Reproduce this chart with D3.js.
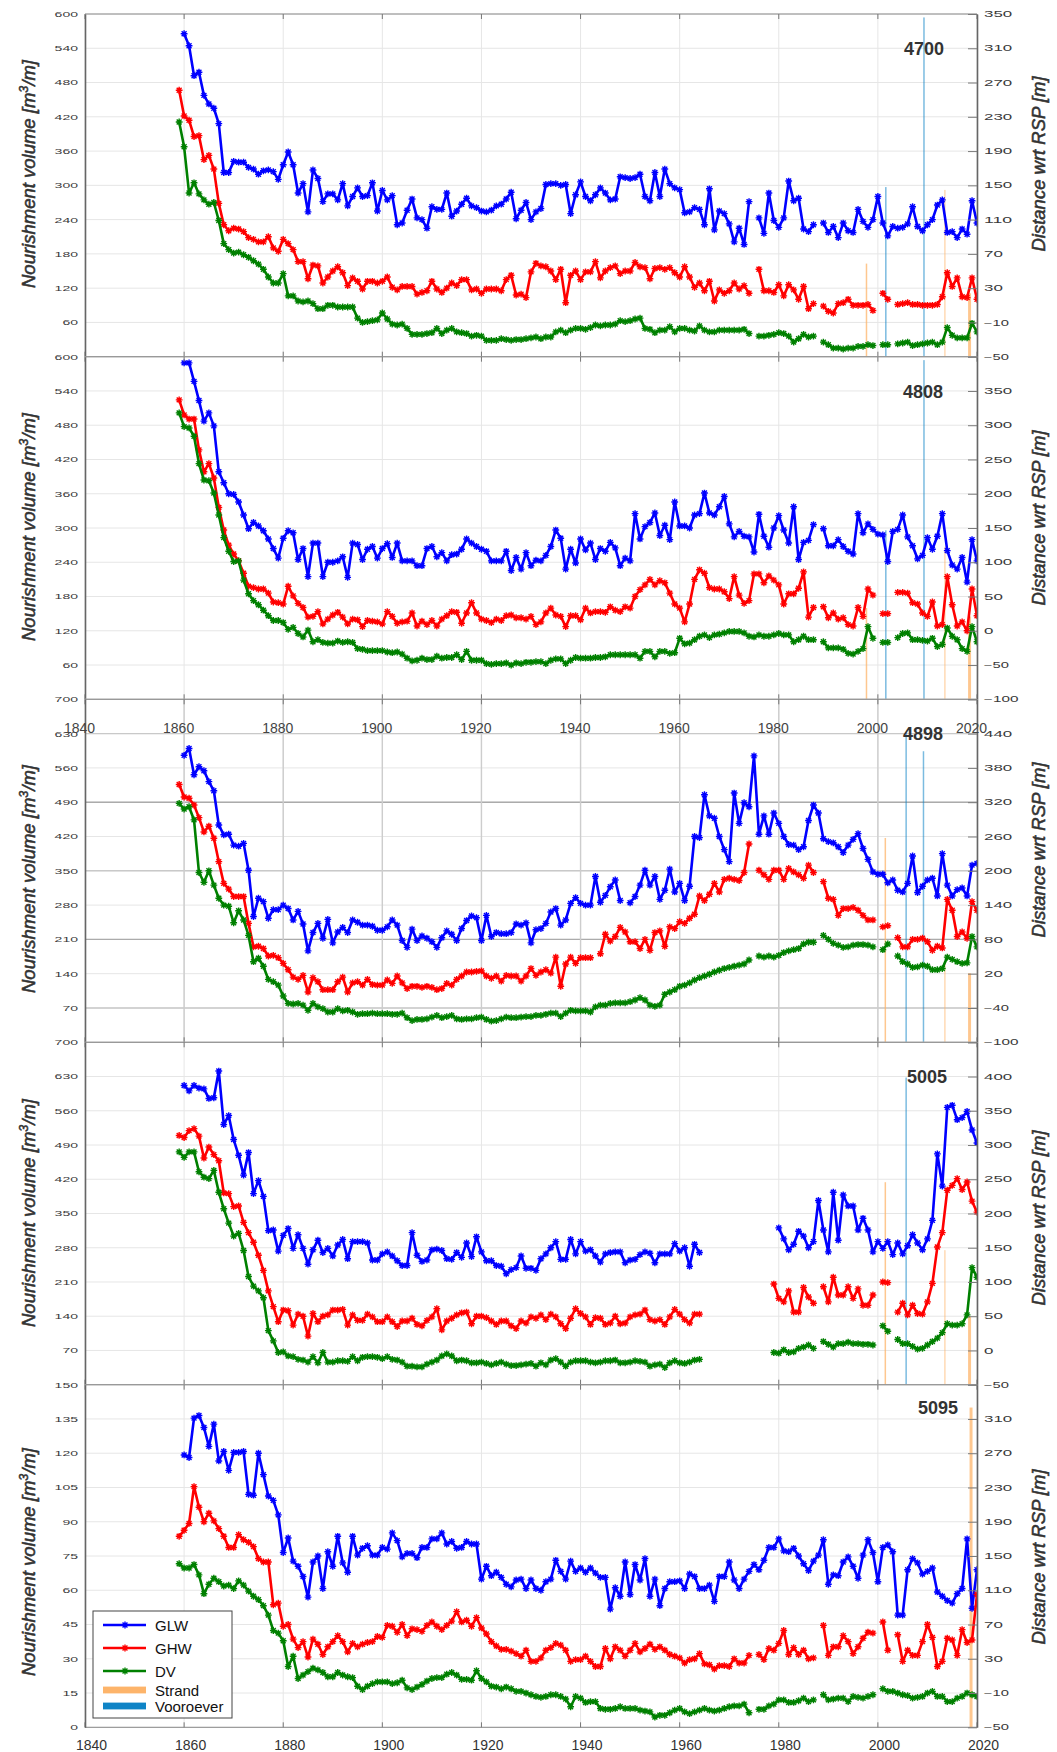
<!DOCTYPE html>
<html>
<head>
<meta charset="utf-8">
<script src="https://cdn.jsdelivr.net/npm/d3@7"></script>
<style>
  html, body { margin: 0; padding: 0; background: #fff; }
  svg { display: block; font-family: "Liberation Sans", Arial, Helvetica, sans-serif; }
</style>
</head>
<body>
<svg id="chart" width="1057" height="1752"></svg>
<script>
// ---------------------------------------------------------------------------
// Data: yearly positions (m w.r.t. RSP) of GLW, GHW and DV per transect,
// 1859..2020 (null = no measurement), and nourishment volumes (m3/m).
// ---------------------------------------------------------------------------
const years = d3.range(1859, 2021);
const yearTicks = d3.range(1840, 2021, 20);
const transects = ["4700", "4808", "4898", "5005", "5095"];
const seriesNames = ["GLW", "GHW", "DV"];
const volumeMax = [600, 600, 700, 700, 150];
const volumeStep = [60, 60, 70, 70, 15];
const distanceDomain = [[-50, 350], [-100, 400], [-100, 500], [-50, 450], [-50, 350]];
const distanceStep = [40, 50, 60, 50, 40];

const glw4700 = [
  null,327,313,278,282,255,245,240,222,165,165,
  178,177,177,171,169,163,167,168,166,157,
  174,189,174,141,152,119,168,158,131,140,
  140,133,152,126,137,147,137,138,153,120,
  144,133,138,104,106,121,134,112,110,100,
  125,122,122,141,114,120,128,135,126,124,
  120,119,121,126,128,134,142,111,121,130,
  110,119,123,151,152,152,150,151,117,139,
  154,137,132,139,147,141,133,134,160,159,
  158,159,163,137,132,165,137,169,152,147,
  145,118,119,124,122,104,146,98,120,117,
  105,84,100,81,131,null,112,94,141,109,
  101,112,155,132,135,99,96,104,null,106,
  95,102,89,106,97,95,122,108,101,110,
  137,106,91,102,100,101,105,125,102,97,
  104,110,127,133,95,96,89,99,93,132,106];
const ghw4700 = [
  261,231,226,207,208,180,185,169,129,104,97,
  100,99,96,89,87,84,84,90,77,73,
  87,82,75,61,61,41,57,56,36,43,
  50,55,48,33,42,38,29,38,38,36,
  38,43,31,28,32,32,32,23,25,27,
  38,29,25,30,36,33,40,40,28,29,
  24,29,29,29,27,40,45,22,23,19,
  49,59,56,55,50,40,52,13,45,50,
  40,49,49,61,42,50,54,56,47,50,
  50,60,55,54,41,53,54,52,54,48,
  43,55,43,31,36,27,38,15,28,24,
  27,36,29,33,24,null,52,27,27,25,
  34,21,34,28,17,32,6,12,null,9,
  3,1,12,13,17,10,10,10,11,4,
  null,24,17,null,11,12,13,11,11,10,
  10,10,11,20,48,32,42,20,19,42,17];
const dv4700 = [
  224,195,141,153,140,133,128,130,109,82,75,
  71,72,69,66,62,58,52,43,36,36,
  47,21,21,15,14,15,12,6,6,10,
  10,8,8,8,8,-5,-10,-9,-8,-7,
  1,-6,-12,-13,-12,-17,-24,-24,-24,-23,
  -22,-17,-23,-19,-17,-21,-22,-23,-26,-25,
  -26,-31,-31,-31,-29,-30,-31,-30,-30,-29,
  -28,-27,-29,-27,-27,-21,-19,-22,-19,-17,
  -17,-18,-16,-13,-14,-13,-13,-12,-8,-9,
  -8,-6,-5,-17,-18,-22,-19,-19,-15,-21,
  -17,-17,-19,-20,-14,-19,-21,-21,-19,-19,
  -19,-19,-19,-18,-23,null,-26,-26,-25,-24,
  -22,-23,-26,-33,-29,-24,-27,-26,null,-33,
  -36,-40,-40,-41,-40,-40,-38,-38,-36,-37,
  null,-36,-36,null,-35,-34,-33,-37,-36,-35,
  -34,-33,-36,-33,-16,-25,-28,-28,-28,-11,-21];

const glw4808 = [
  null,391,391,364,336,306,318,299,232,216,200,
  199,188,169,149,158,153,146,134,120,106,
  135,146,143,104,120,79,128,128,79,100,
  100,102,108,78,128,126,104,119,123,106,
  120,127,107,128,102,102,102,95,95,120,
  123,108,114,102,111,112,119,134,128,123,
  119,116,102,102,102,116,88,107,90,114,
  95,103,102,110,123,147,135,90,119,99,
  134,118,128,104,120,116,129,121,95,106,
  102,171,134,152,158,172,139,154,133,188,
  153,153,150,169,171,201,172,169,181,196,
  156,137,145,138,137,115,170,138,122,150,
  168,147,128,181,104,129,132,155,null,149,
  124,124,133,123,116,112,171,143,156,148,
  141,140,101,145,148,169,137,124,105,110,
  136,119,138,171,117,96,90,107,71,133,102];
const ghw4808 = [
  337,315,309,309,264,232,244,223,180,147,125,
  112,102,84,65,63,61,61,55,42,41,
  39,65,51,40,34,20,21,28,10,17,
  23,27,20,10,17,16,6,15,14,13,
  10,28,21,11,13,14,26,7,14,9,
  15,7,17,22,28,27,11,26,41,26,
  17,15,12,17,15,22,23,19,19,17,
  21,9,13,26,33,23,21,6,22,22,
  16,33,26,28,28,27,35,30,28,35,
  33,50,60,67,75,67,73,70,55,39,
  33,13,39,75,89,84,63,61,61,57,
  47,79,52,40,44,83,83,70,80,74,
  67,39,54,54,62,86,20,34,null,35,
  19,26,17,19,9,7,34,21,61,52,
  null,25,25,null,56,56,55,41,39,26,
  21,42,7,9,79,38,7,13,0,61,22];
const dv4808 = [
  318,298,296,284,244,220,219,201,169,136,116,
  101,102,74,54,44,38,30,22,15,15,
  12,2,5,-4,-9,1,-16,-13,-17,-18,
  -18,-15,-17,-16,-17,-26,-27,-29,-29,-29,
  -29,-31,-32,-31,-34,-40,-44,-43,-40,-42,
  -42,-37,-40,-39,-39,-35,-42,-30,-43,-43,
  -43,-48,-49,-48,-48,-47,-50,-47,-48,-46,
  -46,-45,-45,-48,-43,-41,-41,-48,-43,-39,
  -40,-40,-40,-39,-39,-38,-35,-35,-35,-35,
  -35,-35,-40,-30,-30,-38,-30,-30,-33,-32,
  -11,-19,-18,-13,-8,-6,-10,-6,-5,-3,
  -1,-1,-1,-3,-8,-9,-6,-8,-8,-6,
  -4,-6,-6,-16,-13,-8,-13,-13,null,-16,
  -25,-25,-25,-27,-33,-34,-30,-26,6,-11,
  null,-17,-17,null,-10,-4,-3,-13,-13,-14,
  -15,-11,-23,-20,4,-8,-13,-26,-30,6,-16];

const glw4898 = [
  null,402,414,368,382,375,356,340,280,263,264,
  245,243,248,201,120,152,146,117,132,132,
  140,134,114,129,107,60,92,108,82,115,
  74,93,101,92,114,110,105,105,103,96,
  96,102,114,105,78,66,98,78,86,82,
  76,66,83,95,89,78,99,113,121,118,
  78,122,85,92,90,90,92,107,105,109,
  74,97,99,108,128,134,105,114,143,153,
  143,140,140,190,145,157,172,184,148,null,
  144,155,175,201,175,190,150,166,203,163,
  178,148,173,260,258,333,296,292,260,237,
  216,336,283,319,312,401,264,296,264,301,
  283,260,246,245,237,242,288,315,301,256,
  251,249,242,232,245,255,265,239,220,198,
  194,194,179,184,166,163,178,226,162,173,
  184,187,156,230,175,156,167,170,156,210,213];
const ghw4898 = [
  351,329,327,315,293,268,278,257,216,178,168,
  155,155,155,108,67,68,64,51,52,48,
  38,27,14,10,17,-12,13,6,-8,-8,
  -8,6,14,-12,4,6,0,10,1,0,
  0,9,3,16,4,-6,-2,-2,-4,-2,
  -4,-8,-6,3,0,10,16,23,23,24,
  25,16,12,16,7,17,16,16,7,16,
  29,17,23,27,21,49,-2,37,49,38,
  48,48,48,null,55,89,77,85,101,93,
  76,76,64,80,61,92,95,68,102,99,
  111,108,117,124,156,148,159,178,163,185,
  187,185,183,197,247,null,201,193,185,201,
  201,185,204,198,193,187,210,197,null,181,
  152,150,122,134,134,136,131,122,114,114,
  null,102,104,null,83,67,67,80,80,82,
  76,61,68,65,150,131,85,93,82,146,131];
const dv4898 = [
  318,308,312,289,197,180,200,175,152,140,138,
  109,130,114,87,41,47,33,10,6,0,
  -19,-32,-33,-32,-35,-44,-32,-38,-41,-47,
  -47,-41,-45,-44,-47,-51,-50,-50,-49,-50,
  -50,-50,-51,-51,-49,-57,-62,-60,-60,-59,
  -56,-53,-57,-55,-53,-59,-60,-59,-59,-57,
  -56,-60,-63,-62,-59,-56,-57,-57,-56,-55,
  -55,-53,-53,-51,-49,-49,-55,-49,-44,-45,
  -45,-45,-47,-38,-35,-35,-32,-31,-31,-31,
  -29,-26,-22,-26,-35,-37,-35,-16,-12,-8,
  -2,0,4,9,13,16,19,23,26,29,
  31,33,35,37,44,null,51,49,51,49,
  52,57,60,62,64,72,75,75,null,87,
  80,73,70,66,67,70,71,71,70,67,
  null,62,72,null,51,41,37,31,32,35,
  33,27,27,29,49,45,41,38,39,85,67];

const glw5005 = [
  null,387,379,387,383,382,368,369,408,330,343,
  308,285,256,289,229,248,225,175,176,145,
  168,178,149,169,149,126,147,161,143,149,
  138,154,162,134,159,159,159,157,132,132,
  141,144,138,131,124,124,172,139,130,132,
  147,148,146,134,133,143,136,157,137,166,
  144,131,131,124,123,112,118,121,138,120,
  120,117,134,141,150,159,133,133,162,141,
  159,145,147,138,129,141,143,144,144,128,
  132,133,140,144,142,128,141,141,141,156,
  145,150,123,155,143,null,null,null,null,null,
  null,null,null,null,null,null,null,null,null,null,
  179,163,147,155,174,167,150,159,219,176,
  144,231,161,227,211,211,176,193,176,144,
  159,149,159,140,157,141,153,169,157,147,
  163,190,287,240,355,358,337,340,349,322,303];
const ghw5005 = [
  314,311,321,324,313,281,297,286,277,230,229,
  210,211,187,172,158,139,117,87,64,42,
  59,58,37,53,50,21,54,42,50,52,
  59,59,60,37,52,44,44,53,49,42,
  42,49,42,35,43,43,47,38,36,44,
  49,61,30,43,47,52,55,56,39,50,
  50,48,43,38,43,43,36,32,43,40,
  49,47,52,45,53,49,39,32,47,61,
  54,49,38,48,47,38,40,50,39,40,
  49,52,53,59,45,43,45,38,49,60,
  53,45,40,53,53,null,null,null,null,null,
  null,null,null,null,null,null,null,null,null,97,
  76,71,87,56,56,92,78,69,null,93,
  71,107,81,81,93,76,90,66,66,81,
  null,100,99,null,56,69,52,66,54,53,
  71,98,151,172,234,241,251,235,246,218,202];
const dv5005 = [
  290,282,290,290,261,253,251,263,231,207,186,
  167,171,146,108,94,87,77,29,14,-3,
  -2,-8,-9,-13,-14,-17,-9,-18,-3,-17,
  -17,-15,-15,-16,-9,-15,-10,-9,-9,-10,
  -12,-9,-13,-14,-17,-23,-23,-24,-24,-20,
  -17,-14,-8,-5,-8,-15,-14,-15,-18,-18,
  -17,-19,-21,-19,-17,-20,-22,-22,-21,-20,
  -19,-23,-18,-21,-14,-12,-17,-23,-17,-15,
  -15,-15,-17,-18,-17,-15,-15,-14,-18,-18,
  -17,-15,-16,-17,-23,-21,-20,-25,-18,-15,
  -18,-19,-17,-14,-13,null,null,null,null,null,
  null,null,null,null,null,null,null,null,null,-3,
  -4,1,-3,-2,3,5,8,3,null,13,
  9,5,10,10,12,10,10,9,9,8,
  null,36,28,null,16,10,10,6,2,3,
  8,13,18,26,39,37,37,39,52,121,107];

const glw5095 = [
  null,268,265,311,314,300,278,304,261,272,250,
  271,271,272,222,221,270,245,220,215,198,
  154,171,144,138,126,102,143,150,112,155,
  138,173,142,131,173,151,159,162,151,151,
  160,158,177,168,149,153,153,148,160,160,
  170,170,177,164,167,159,160,167,164,164,
  123,138,127,131,125,117,114,122,123,112,
  122,112,110,120,123,145,132,123,144,132,
  136,131,136,130,125,125,88,113,103,143,
  105,140,122,147,103,123,92,112,120,120,
  121,112,129,126,112,112,116,97,126,126,
  143,122,112,123,132,140,134,145,160,160,
  170,156,155,159,150,141,133,144,151,169,
  117,128,127,143,149,138,124,151,169,154,
  120,160,163,155,81,81,134,147,142,129,
  132,136,108,103,98,95,106,112,170,89,134];
const ghw5095 = [
  173,180,188,231,207,190,200,191,182,173,160,
  160,175,169,166,161,147,143,143,93,95,
  68,70,53,43,50,32,53,47,35,44,
  50,57,50,38,48,44,47,49,50,56,
  55,69,68,61,70,57,65,64,62,69,
  73,68,64,69,74,85,73,75,68,78,
  66,59,50,45,41,41,39,36,33,40,
  27,27,31,40,43,48,46,40,27,29,
  29,33,27,21,21,42,30,44,40,33,
  40,48,38,42,47,41,44,40,35,33,
  31,25,29,30,36,24,23,18,22,22,
  21,30,25,25,34,null,35,29,42,40,
  48,63,35,43,35,40,30,31,null,69,
  34,44,44,57,50,36,44,54,61,60,
  null,73,40,null,58,27,40,34,34,50,
  70,55,21,27,54,52,34,64,49,52,105];
const dv5095 = [
  141,136,136,140,128,106,117,124,120,115,116,
  112,121,116,109,103,99,92,81,63,60,
  51,21,33,7,11,15,19,17,14,9,
  9,14,11,9,8,-2,-6,-2,1,3,
  3,3,1,2,5,-4,-6,-3,0,4,
  7,8,8,12,14,11,6,6,5,16,
  7,3,-2,-3,-5,-3,-5,-8,-8,-10,
  -12,-14,-15,-14,-12,-12,-14,-17,-26,-14,
  -16,-21,-20,-20,-28,-29,-29,-28,-26,-28,
  -28,-28,-30,-31,-32,-38,-36,-36,-33,-30,
  -28,-32,-34,-32,-30,-28,-30,-31,-30,-28,
  -26,-25,-25,-23,-33,null,-29,-29,-25,-23,
  -18,-18,-21,-21,-19,-16,-20,-18,null,-12,
  -18,-17,-16,-16,-20,-14,-15,-16,-14,-12,
  null,-5,-8,-8,-10,-12,-13,-16,-15,-14,
  -10,-8,-14,-14,-20,-20,-16,-14,-10,-12,-14];

// Nourishments: year, volume (m3/m) and duration (years) per transect
const strandYears  = [[1997.7, 2013.5, 2018.5], [1997.7, 2013.5, 2018.5], [2001.5, 2013.5, 2018.5], [2001.5, 2013.5, 2018.5], [2018.8]];
const strandVolume = [[163, 292, 111], [160, 267, 145], [417, 162, 141], [414, 275, 139], [140]];
const strandSpan   = [[0.3, 0.15, 0.6], [0.3, 0.15, 0.6], [0.3, 0.15, 0.6], [0.3, 0.15, 0.6], [0.6]];
const shoreYears   = [[2001.6, 2009.3], [2001.6, 2009.3], [2005.7, 2009.2], [2005.7], []];
const shoreVolume  = [[297, 594], [296, 594], [632, 594], [628], []];

// ---------------------------------------------------------------------------
// Layout and styles
// ---------------------------------------------------------------------------
const X0 = 85, X1 = 977;
const panelTop    = [14, 356.7, 699.3, 1042.3, 1384.7];
const panelBottom = [356.7, 699.3, 1042.3, 1384.7, 1727.3];
const leftTitleY  = [174, 527, 879, 1213, 1562];
const rightTitleY = [164, 518, 850, 1218, 1557];
const tagPos = [[924, 48], [923, 391], [923, 733], [927, 1076], [938, 1407]];
const seriesColor = { GLW: "#0000ff", GHW: "#ff0000", DV: "#008000" };
const strandColor = "#fdb46a", shoreColor = "#0f84c6";

const panels = transects.map((id, i) => ({
  id,
  series: {
    GLW: [glw4700, glw4808, glw4898, glw5005, glw5095][i],
    GHW: [ghw4700, ghw4808, ghw4898, ghw5005, ghw5095][i],
    DV:  [dv4700, dv4808, dv4898, dv5005, dv5095][i]
  },
  strand: strandYears[i].map((y, k) => ({ year: y, vol: strandVolume[i][k], span: strandSpan[i][k] })),
  shore: shoreYears[i].map((y, k) => ({ year: y, vol: shoreVolume[i][k], span: 0.3 }))
}));

const svg = d3.select("#chart");
const x = d3.scaleLinear().domain([1840, 2020]).range([X0, X1]);

// MATLAB-like '*' marker
function starPath(s) {
  const d = s * 0.72;
  return `M${-s},0H${s}M0,${-s}V${s}M${-d},${-d}L${d},${d}M${-d},${d}L${d},${-d}`;
}

// stretched numeric tick labels of the y axes
function stretchLabels(sel, perDigit, minus) {
  sel.each(function () {
    const t = d3.select(this), s = t.text();
    if (!s) return;
    const neg = s.startsWith("-") || s.startsWith("\u2212");
    const digits = s.length - (neg ? 1 : 0);
    t.attr("textLength", digits * perDigit + (neg ? minus : 0)).attr("lengthAdjust", "spacingAndGlyphs");
  });
}

panels.forEach((p, i) => {
  const top = panelTop[i], bottom = panelBottom[i];
  const yL = d3.scaleLinear().domain([0, volumeMax[i]]).range([bottom, top]);
  const yR = d3.scaleLinear().domain(distanceDomain[i]).range([bottom, top]);
  const g = svg.append("g").attr("class", "panel");

  const clipId = "clip" + i;
  svg.append("clipPath").attr("id", clipId)
    .append("rect").attr("x", X0).attr("y", top).attr("width", X1 - X0).attr("height", bottom - top);

  const volTicks = d3.range(0, volumeMax[i] + 1e-9, volumeStep[i]);
  const distTicks = d3.range(distanceDomain[i][0], distanceDomain[i][1] + 1e-9, distanceStep[i]);

  // grid
  const grid = g.append("g");
  const gridColor = "#e6e6e6";
  grid.selectAll("line.h").data(volTicks).join("line")
    .attr("x1", X0).attr("x2", X1).attr("y1", d => yL(d)).attr("y2", d => yL(d))
    .attr("stroke", gridColor).attr("stroke-width", 1);
  grid.selectAll("line.v").data(yearTicks).join("line")
    .attr("x1", d => x(d)).attr("x2", d => x(d)).attr("y1", top).attr("y2", bottom)
    .attr("stroke", gridColor).attr("stroke-width", 1);
  if (i === 2) {
    // second, heavier grid of the overlaid axes
    grid.selectAll("line.h2").data(d3.range(70, 700, 140)).join("line")
      .attr("x1", X0).attr("x2", X1).attr("y1", d => yL(d)).attr("y2", d => yL(d))
      .attr("stroke", d => (d === 210 || d === 490) ? "#ababab" : "#c9c9c9").attr("stroke-width", 1.4);
    grid.selectAll("line.v2").data(yearTicks.slice(1, -1)).join("line")
      .attr("x1", d => x(d)).attr("x2", d => x(d)).attr("y1", top).attr("y2", bottom)
      .attr("stroke", "#cdcdcd").attr("stroke-width", 1.4);
  }

  // nourishment bars (left axis)
  const bars = g.append("g").attr("clip-path", `url(#${clipId})`);
  const drawBars = (data, color, opacity) => {
    bars.append("g").selectAll("rect").data(data).join("rect")
      .attr("x", d => x(d.year - d.span / 2))
      .attr("width", d => Math.max(1, x(d.year + d.span / 2) - x(d.year - d.span / 2)))
      .attr("y", d => yL(d.vol))
      .attr("height", d => yL(0) - yL(d.vol))
      .attr("fill", color).attr("fill-opacity", opacity);
  };
  drawBars(p.strand, strandColor, 0.75);
  drawBars(p.shore, shoreColor, 0.55);

  // series (right axis)
  const lines = g.append("g").attr("clip-path", `url(#${clipId})`);
  seriesNames.forEach(name => {
    const vals = p.series[name];
    const pts = years.map((yr, k) => ({ yr, v: vals[k] }));
    const line = d3.line().defined(d => d.v !== null && d.v !== undefined)
      .x(d => x(d.yr)).y(d => yR(d.v));
    lines.append("path").datum(pts).attr("d", line)
      .attr("fill", "none").attr("stroke", seriesColor[name]).attr("stroke-width", 2.6)
      .attr("stroke-linejoin", "round");
    lines.append("g").selectAll("path").data(pts.filter(d => d.v !== null && d.v !== undefined)).join("path")
      .attr("transform", d => `translate(${x(d.yr)},${yR(d.v)})`)
      .attr("d", starPath(3.4))
      .attr("stroke", seriesColor[name]).attr("stroke-width", 1.4).attr("fill", "none");
  });

  // frame: top / bottom borders with inward year ticks
  g.append("line").attr("x1", X0).attr("x2", X1).attr("y1", top).attr("y2", top)
    .attr("stroke", "#8a8a8a").attr("stroke-width", 1);
  g.append("line").attr("x1", X0).attr("x2", X1).attr("y1", bottom).attr("y2", bottom)
    .attr("stroke", "#8a8a8a").attr("stroke-width", 1);
  g.append("g").selectAll("line").data(yearTicks).join("line")
    .attr("x1", d => x(d)).attr("x2", d => x(d)).attr("y1", top).attr("y2", top + 5)
    .attr("stroke", "#777");
  g.append("g").selectAll("line").data(yearTicks).join("line")
    .attr("x1", d => x(d)).attr("x2", d => x(d)).attr("y1", bottom - 5).attr("y2", bottom)
    .attr("stroke", "#777");

  // left axis (nourishment volume)
  const isLast = i === panels.length - 1;
  const leftAxis = d3.axisLeft(yL).tickValues(volTicks).tickSize(0).tickPadding(7)
    .tickFormat(d => (d === 0 && !isLast) ? "" : d3.format("d")(d));
  const la = g.append("g").attr("transform", `translate(${X0},0)`).call(leftAxis);
  la.select(".domain").attr("stroke", "#666").attr("stroke-width", 1.6);
  la.selectAll("text").attr("font-size", 7.6).attr("fill", "#3a3a3a")
    .attr("font-family", "'Liberation Sans', Arial, sans-serif");
  stretchLabels(la.selectAll("text"), 7.8, 5.5);

  // right axis (distance wrt RSP)
  const isFirst = i === 0;
  const topVal = distanceDomain[i][1];
  const rightAxis = d3.axisRight(yR).tickValues(distTicks).tickSizeInner(-9).tickSizeOuter(0).tickPadding(7)
    .tickFormat(d => (d === topVal && !isFirst) ? "" : d3.format("d")(d));
  const ra = g.append("g").attr("transform", `translate(${X1},0)`).call(rightAxis);
  ra.select(".domain").attr("stroke", "#666").attr("stroke-width", 1.6);
  ra.selectAll(".tick line").attr("stroke", "#7a7a7a");
  ra.selectAll("text").attr("font-size", 8.2).attr("fill", "#3a3a3a")
    .attr("font-family", "'Liberation Sans', Arial, sans-serif");
  stretchLabels(ra.selectAll("text"), 9.4, 6.2);

  // axis titles
  const lt = svg.append("text")
    .attr("transform", `translate(35,${leftTitleY[i]}) rotate(-90)`)
    .attr("text-anchor", "middle").attr("font-style", "italic").attr("font-size", 18.5)
    .attr("fill", "#333").attr("stroke", "#333").attr("stroke-width", 0.55);
  lt.append("tspan").text("Nourishment volume [m");
  lt.append("tspan").attr("dy", -7).attr("font-size", 12.5).text("3");
  lt.append("tspan").attr("dy", 7).text("/m]");

  svg.append("text")
    .attr("transform", `translate(1045,${rightTitleY[i]}) rotate(-90)`)
    .attr("text-anchor", "middle").attr("font-style", "italic").attr("font-size", 18.5)
    .attr("fill", "#333").attr("stroke", "#333").attr("stroke-width", 0.55)
    .text("Distance wrt RSP [m]");

  // transect number
  svg.append("text").attr("x", tagPos[i][0]).attr("y", tagPos[i][1] + 6.5)
    .attr("text-anchor", "middle").attr("font-weight", "bold").attr("font-size", 18)
    .attr("fill", "#333").text(p.id);
});

// year labels: along the bottom, and repeated at the top of the third panel
const bottomAxis = d3.axisBottom(x).tickValues(yearTicks).tickSize(0).tickPadding(13).tickFormat(d3.format("d"));
const ba = svg.append("g").attr("transform", `translate(0,${panelBottom[4]})`).call(bottomAxis);
ba.select(".domain").remove();
ba.selectAll("text").attr("font-size", 14).attr("fill", "#333").attr("dx", 6)
  .attr("font-family", "'Liberation Sans', Arial, sans-serif");

const midAxis = d3.axisBottom(x).tickValues(yearTicks).tickSize(0).tickPadding(23.5).tickFormat(d3.format("d"));
const ma = svg.append("g").attr("transform", `translate(0,${panelTop[2]})`).call(midAxis);
ma.select(".domain").remove();
ma.selectAll("text").attr("font-size", 14).attr("fill", "#444").attr("dx", -6)
  .attr("font-family", "'Liberation Sans', Arial, sans-serif");

// legend (bottom panel)
const legendItems = [
  { label: "GLW", kind: "series", color: seriesColor.GLW, y: 1625 },
  { label: "GHW", kind: "series", color: seriesColor.GHW, y: 1648 },
  { label: "DV", kind: "series", color: seriesColor.DV, y: 1671 },
  { label: "Strand", kind: "bar", color: strandColor, y: 1690 },
  { label: "Vooroever", kind: "bar", color: shoreColor, y: 1706 }
];
const lg = svg.append("g");
lg.append("rect").attr("x", 93).attr("y", 1611).attr("width", 139).attr("height", 107)
  .attr("fill", "#fff").attr("stroke", "#444").attr("stroke-width", 1);
legendItems.forEach(it => {
  if (it.kind === "series") {
    lg.append("line").attr("x1", 103).attr("x2", 146).attr("y1", it.y).attr("y2", it.y)
      .attr("stroke", it.color).attr("stroke-width", 2.6);
    lg.append("path").attr("transform", `translate(125,${it.y})`).attr("d", starPath(3.4))
      .attr("stroke", it.color).attr("stroke-width", 1.4).attr("fill", "none");
  } else {
    lg.append("rect").attr("x", 103).attr("y", it.y - 3.4).attr("width", 43).attr("height", 6.8)
      .attr("fill", it.color);
  }
  lg.append("text").attr("x", 155).attr("y", it.y + 5.5).attr("font-size", 15).attr("fill", "#111")
    .text(it.label);
});
</script>
</body>
</html>
